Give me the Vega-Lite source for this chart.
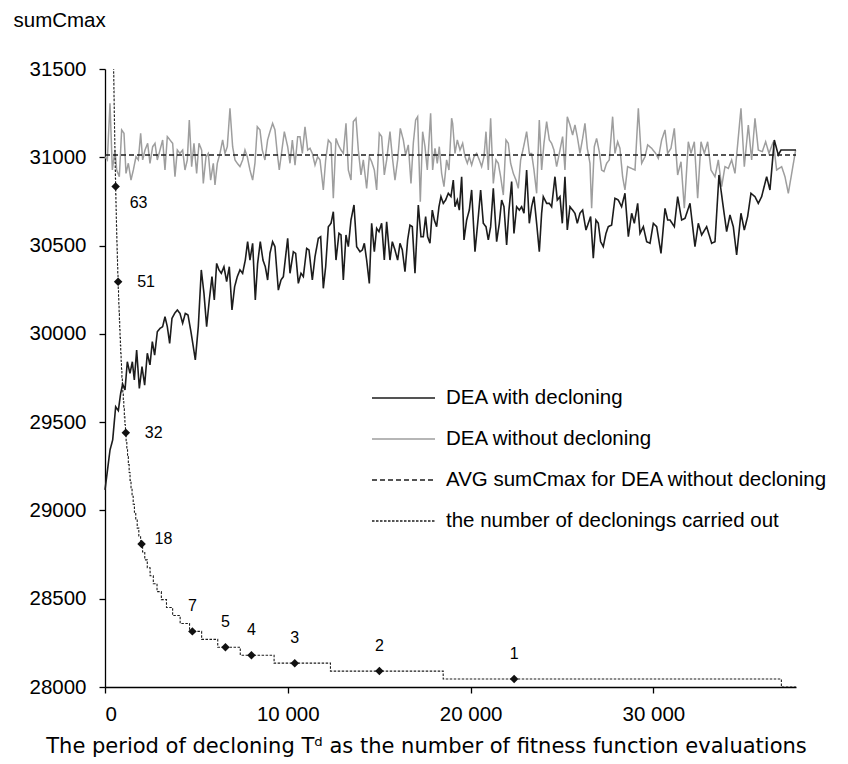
{
  "$schema": "https://vega.github.io/schema/vega-lite/v6.json",
  "width": 691,
  "height": 618,
  "autosize": {"type": "none"},
  "padding": {"left": 105, "top": 69, "right": 52, "bottom": 77},
  "background": "white",
  "config": {
    "view": {"stroke": null},
    "font": "Liberation Sans",
    "axis": {
      "domainColor": "black", "tickColor": "black", "labelColor": "black", "titleColor": "black",
      "labelFont": "Liberation Sans", "titleFont": "Liberation Sans",
      "labelFontSize": 20.5, "titleFontSize": 20.5, "titleFontWeight": "normal",
      "grid": false, "tickSize": 6, "domainWidth": 1.3, "tickWidth": 1.3
    },
    "legend": {
      "orient": "none", "legendX": 266, "legendY": 317, "padding": 0,
      "symbolType": "stroke", "symbolSize": 3969, "symbolStrokeWidth": 1.4,
      "labelFont": "Liberation Sans", "labelFontSize": 20.5, "labelColor": "black",
      "labelOffset": 10, "clipHeight": 24, "rowPadding": 17, "labelLimit": 500
    }
  },
  "datasets": {
    "dec": [
      {"T":0,"v":29116},{"T":274,"v":29342},{"T":420,"v":29399},{"T":583,"v":29587},{"T":729,"v":29565},{"T":857,"v":29663},{"T":966,"v":29716},{"T":1094,"v":29682},{"T":1221,"v":29842},{"T":1367,"v":29776},{"T":1495,"v":29842},{"T":1604,"v":29739},{"T":1732,"v":29908},{"T":1878,"v":29691},{"T":2024,"v":29814},{"T":2169,"v":29710},{"T":2315,"v":29890},{"T":2461,"v":29824},{"T":2589,"v":29956},{"T":2716,"v":29880},{"T":2862,"v":30012},{"T":3008,"v":30031},{"T":3154,"v":30041},{"T":3281,"v":30097},{"T":3409,"v":30041},{"T":3537,"v":29946},{"T":3664,"v":30088},{"T":3810,"v":30116},{"T":3956,"v":30135},{"T":4102,"v":30116},{"T":4248,"v":30060},{"T":4393,"v":30116},{"T":4539,"v":30107},{"T":4685,"v":30022},{"T":4831,"v":29927},{"T":4940,"v":29852},{"T":5104,"v":30041},{"T":5268,"v":30362},{"T":5414,"v":30229},{"T":5560,"v":30041},{"T":5706,"v":30192},{"T":5852,"v":30324},{"T":5979,"v":30192},{"T":6107,"v":30399},{"T":6235,"v":30362},{"T":6362,"v":30343},{"T":6508,"v":30380},{"T":6654,"v":30296},{"T":6800,"v":30380},{"T":6946,"v":30135},{"T":7091,"v":30267},{"T":7237,"v":30324},{"T":7383,"v":30362},{"T":7529,"v":30343},{"T":7675,"v":30418},{"T":7802,"v":30522},{"T":7930,"v":30418},{"T":8076,"v":30513},{"T":8222,"v":30192},{"T":8349,"v":30399},{"T":8495,"v":30522},{"T":8641,"v":30418},{"T":8769,"v":30380},{"T":8896,"v":30305},{"T":9024,"v":30456},{"T":9170,"v":30522},{"T":9297,"v":30494},{"T":9482,"v":30248},{"T":9628,"v":30305},{"T":9756,"v":30324},{"T":9993,"v":30541},{"T":10120,"v":30343},{"T":10303,"v":30465},{"T":10430,"v":30456},{"T":10576,"v":30286},{"T":10722,"v":30343},{"T":10850,"v":30324},{"T":11032,"v":30484},{"T":11159,"v":30475},{"T":11342,"v":30305},{"T":11488,"v":30437},{"T":11670,"v":30541},{"T":11798,"v":30550},{"T":11943,"v":30258},{"T":12071,"v":30380},{"T":12217,"v":30607},{"T":12363,"v":30626},{"T":12490,"v":30692},{"T":12636,"v":30418},{"T":12800,"v":30569},{"T":12910,"v":30560},{"T":13037,"v":30305},{"T":13183,"v":30560},{"T":13311,"v":30494},{"T":13456,"v":30645},{"T":13621,"v":30730},{"T":13766,"v":30494},{"T":13949,"v":30465},{"T":14077,"v":30475},{"T":14186,"v":30513},{"T":14313,"v":30418},{"T":14459,"v":30286},{"T":14587,"v":30626},{"T":14733,"v":30465},{"T":14860,"v":30598},{"T":14988,"v":30579},{"T":15134,"v":30626},{"T":15279,"v":30418},{"T":15407,"v":30635},{"T":15589,"v":30418},{"T":15717,"v":30522},{"T":15863,"v":30475},{"T":16009,"v":30418},{"T":16136,"v":30513},{"T":16264,"v":30475},{"T":16410,"v":30352},{"T":16556,"v":30532},{"T":16683,"v":30616},{"T":16811,"v":30607},{"T":16957,"v":30343},{"T":17139,"v":30730},{"T":17285,"v":30550},{"T":17412,"v":30550},{"T":17540,"v":30664},{"T":17649,"v":30550},{"T":17777,"v":30513},{"T":17903,"v":30701},{"T":18014,"v":30645},{"T":18141,"v":30607},{"T":18269,"v":30720},{"T":18378,"v":30777},{"T":18506,"v":30739},{"T":18634,"v":30758},{"T":18780,"v":30796},{"T":18925,"v":30777},{"T":19053,"v":30871},{"T":19145,"v":30720},{"T":19273,"v":30758},{"T":19382,"v":30701},{"T":19510,"v":30890},{"T":19638,"v":30532},{"T":19784,"v":30645},{"T":19929,"v":30701},{"T":20057,"v":30815},{"T":20239,"v":30465},{"T":20422,"v":30664},{"T":20549,"v":30815},{"T":20695,"v":30626},{"T":20841,"v":30607},{"T":20968,"v":30532},{"T":21096,"v":30607},{"T":21242,"v":30824},{"T":21424,"v":30522},{"T":21570,"v":30626},{"T":21698,"v":30758},{"T":21825,"v":30720},{"T":21971,"v":30503},{"T":22099,"v":30701},{"T":22245,"v":30862},{"T":22372,"v":30569},{"T":22518,"v":30720},{"T":22664,"v":30701},{"T":22791,"v":30720},{"T":22919,"v":30683},{"T":23065,"v":30928},{"T":23211,"v":30626},{"T":23338,"v":30720},{"T":23466,"v":30777},{"T":23612,"v":30626},{"T":23758,"v":30465},{"T":23885,"v":30683},{"T":23976,"v":30777},{"T":24159,"v":30739},{"T":24305,"v":30739},{"T":24432,"v":30720},{"T":24614,"v":30890},{"T":24742,"v":30758},{"T":24888,"v":30777},{"T":25016,"v":30626},{"T":25161,"v":30890},{"T":25289,"v":30588},{"T":25435,"v":30720},{"T":25581,"v":30701},{"T":25708,"v":30683},{"T":25836,"v":30626},{"T":25982,"v":30683},{"T":26128,"v":30701},{"T":26310,"v":30588},{"T":26437,"v":30626},{"T":26565,"v":30664},{"T":26711,"v":30428},{"T":26857,"v":30645},{"T":26984,"v":30626},{"T":27112,"v":30522},{"T":27258,"v":30494},{"T":27404,"v":30569},{"T":27531,"v":30607},{"T":27714,"v":30616},{"T":27896,"v":30768},{"T":28078,"v":30758},{"T":28260,"v":30720},{"T":28443,"v":30796},{"T":28628,"v":30550},{"T":28811,"v":30683},{"T":28956,"v":30626},{"T":29139,"v":30739},{"T":29266,"v":30569},{"T":29449,"v":30607},{"T":29631,"v":30522},{"T":29813,"v":30513},{"T":29996,"v":30626},{"T":30178,"v":30607},{"T":30415,"v":30456},{"T":30634,"v":30711},{"T":30779,"v":30645},{"T":30907,"v":30645},{"T":31144,"v":30607},{"T":31326,"v":30777},{"T":31545,"v":30645},{"T":31727,"v":30654},{"T":32001,"v":30739},{"T":32274,"v":30494},{"T":32457,"v":30626},{"T":32639,"v":30560},{"T":32912,"v":30607},{"T":33186,"v":30513},{"T":33368,"v":30522},{"T":33587,"v":30900},{"T":33769,"v":30758},{"T":34006,"v":30579},{"T":34188,"v":30673},{"T":34371,"v":30607},{"T":34553,"v":30447},{"T":34790,"v":30683},{"T":34972,"v":30588},{"T":35154,"v":30664},{"T":35337,"v":30796},{"T":35556,"v":30777},{"T":35738,"v":30739},{"T":35920,"v":30777},{"T":36194,"v":30890},{"T":36376,"v":30815},{"T":36613,"v":31098},{"T":36832,"v":31013},{"T":36978,"v":31041},{"T":37800,"v":31041}
    ],
    "nodec": [
      {"T":0,"v":31003},{"T":128,"v":30985},{"T":273,"v":31306},{"T":401,"v":30928},{"T":547,"v":31041},{"T":638,"v":30928},{"T":784,"v":30890},{"T":911,"v":31155},{"T":1039,"v":31136},{"T":1148,"v":30909},{"T":1276,"v":30966},{"T":1422,"v":30871},{"T":1550,"v":30928},{"T":1695,"v":31003},{"T":1823,"v":30985},{"T":1951,"v":31136},{"T":2060,"v":30985},{"T":2188,"v":31041},{"T":2333,"v":31079},{"T":2461,"v":30966},{"T":2607,"v":31060},{"T":2734,"v":31079},{"T":2862,"v":30985},{"T":3008,"v":31041},{"T":3154,"v":31098},{"T":3281,"v":30928},{"T":3409,"v":31117},{"T":3555,"v":31098},{"T":3701,"v":31079},{"T":3828,"v":30890},{"T":3956,"v":31041},{"T":4102,"v":31022},{"T":4248,"v":31041},{"T":4375,"v":30928},{"T":4503,"v":30985},{"T":4612,"v":31211},{"T":4740,"v":30947},{"T":4867,"v":31079},{"T":5013,"v":30909},{"T":5141,"v":31079},{"T":5287,"v":31041},{"T":5378,"v":30852},{"T":5524,"v":31003},{"T":5651,"v":31022},{"T":5779,"v":30871},{"T":5925,"v":30966},{"T":6016,"v":30843},{"T":6144,"v":30966},{"T":6289,"v":31022},{"T":6435,"v":31098},{"T":6563,"v":31022},{"T":6690,"v":31060},{"T":6836,"v":31277},{"T":6982,"v":31060},{"T":7110,"v":30985},{"T":7237,"v":30966},{"T":7383,"v":30947},{"T":7529,"v":30985},{"T":7657,"v":31041},{"T":7784,"v":31003},{"T":7930,"v":30928},{"T":8076,"v":30871},{"T":8203,"v":30966},{"T":8331,"v":31173},{"T":8477,"v":31155},{"T":8604,"v":31041},{"T":8750,"v":30985},{"T":8896,"v":31098},{"T":9024,"v":31145},{"T":9170,"v":31192},{"T":9297,"v":31155},{"T":9425,"v":31022},{"T":9534,"v":30928},{"T":9810,"v":31145},{"T":9993,"v":31060},{"T":10120,"v":30966},{"T":10248,"v":31098},{"T":10394,"v":30956},{"T":10540,"v":31117},{"T":10667,"v":31117},{"T":10795,"v":31022},{"T":10941,"v":31173},{"T":11087,"v":31041},{"T":11214,"v":31051},{"T":11342,"v":31022},{"T":11488,"v":30956},{"T":11633,"v":31003},{"T":11761,"v":30985},{"T":11943,"v":30815},{"T":12071,"v":30985},{"T":12217,"v":31098},{"T":12363,"v":31079},{"T":12490,"v":30768},{"T":12636,"v":31107},{"T":12764,"v":31070},{"T":12910,"v":31041},{"T":13037,"v":31022},{"T":13183,"v":31192},{"T":13311,"v":30928},{"T":13456,"v":30871},{"T":13584,"v":31202},{"T":13730,"v":31221},{"T":13858,"v":31041},{"T":14003,"v":30900},{"T":14131,"v":30985},{"T":14313,"v":30824},{"T":14459,"v":31003},{"T":14587,"v":30975},{"T":14733,"v":30928},{"T":14860,"v":30815},{"T":15006,"v":31136},{"T":15134,"v":31117},{"T":15279,"v":30900},{"T":15407,"v":30985},{"T":15589,"v":31145},{"T":15717,"v":31003},{"T":15863,"v":30871},{"T":16009,"v":30985},{"T":16154,"v":31164},{"T":16319,"v":31098},{"T":16446,"v":31013},{"T":16592,"v":31070},{"T":16738,"v":30852},{"T":16865,"v":31079},{"T":16993,"v":31211},{"T":17102,"v":31230},{"T":17248,"v":30749},{"T":17376,"v":31145},{"T":17504,"v":31060},{"T":17631,"v":30928},{"T":17813,"v":31249},{"T":17923,"v":30928},{"T":18050,"v":31051},{"T":18178,"v":30966},{"T":18287,"v":31060},{"T":18415,"v":30909},{"T":18543,"v":30834},{"T":18688,"v":30985},{"T":18816,"v":30928},{"T":18962,"v":31221},{"T":19018,"v":31192},{"T":19145,"v":31022},{"T":19273,"v":31098},{"T":19419,"v":31041},{"T":19565,"v":31079},{"T":19692,"v":31003},{"T":19820,"v":30966},{"T":19929,"v":31003},{"T":20057,"v":30956},{"T":20185,"v":31003},{"T":20330,"v":31022},{"T":20476,"v":30985},{"T":20604,"v":30947},{"T":20731,"v":31003},{"T":20841,"v":31145},{"T":20968,"v":30928},{"T":21096,"v":31221},{"T":21242,"v":30852},{"T":21388,"v":30985},{"T":21515,"v":30966},{"T":21643,"v":30890},{"T":21789,"v":30786},{"T":21935,"v":31098},{"T":22062,"v":31079},{"T":22190,"v":30966},{"T":22336,"v":30909},{"T":22482,"v":30871},{"T":22609,"v":30824},{"T":22737,"v":30985},{"T":22883,"v":31051},{"T":23065,"v":31145},{"T":23211,"v":31022},{"T":23338,"v":31022},{"T":23466,"v":30928},{"T":23612,"v":30796},{"T":23758,"v":31211},{"T":23885,"v":30928},{"T":24013,"v":31079},{"T":24159,"v":31202},{"T":24305,"v":31098},{"T":24432,"v":31079},{"T":24560,"v":31041},{"T":24706,"v":30947},{"T":24851,"v":31022},{"T":25034,"v":31117},{"T":25161,"v":30928},{"T":25289,"v":31230},{"T":25435,"v":31183},{"T":25581,"v":31126},{"T":25708,"v":31183},{"T":25836,"v":31117},{"T":25982,"v":31022},{"T":26128,"v":31107},{"T":26255,"v":31192},{"T":26383,"v":31051},{"T":26529,"v":30966},{"T":26620,"v":30711},{"T":26766,"v":31060},{"T":26893,"v":31107},{"T":27039,"v":31032},{"T":27167,"v":30928},{"T":27294,"v":30919},{"T":27440,"v":30966},{"T":27586,"v":30985},{"T":27768,"v":31230},{"T":27896,"v":31022},{"T":28042,"v":31088},{"T":28169,"v":31051},{"T":28315,"v":30890},{"T":28443,"v":30815},{"T":28589,"v":30947},{"T":28993,"v":30928},{"T":29175,"v":31277},{"T":29358,"v":30966},{"T":29540,"v":31003},{"T":29686,"v":31070},{"T":29904,"v":31051},{"T":30123,"v":31022},{"T":30269,"v":30994},{"T":30451,"v":31098},{"T":30634,"v":31155},{"T":30779,"v":31022},{"T":30961,"v":31051},{"T":31144,"v":31164},{"T":31326,"v":30900},{"T":31509,"v":30975},{"T":31691,"v":30711},{"T":31910,"v":31088},{"T":32056,"v":31022},{"T":32238,"v":31088},{"T":32420,"v":30768},{"T":32603,"v":31088},{"T":32785,"v":31022},{"T":32967,"v":31088},{"T":33150,"v":30928},{"T":33368,"v":30890},{"T":33550,"v":30985},{"T":33733,"v":30834},{"T":33915,"v":30947},{"T":34097,"v":30937},{"T":34280,"v":30985},{"T":34462,"v":30909},{"T":34790,"v":31277},{"T":34972,"v":30947},{"T":35191,"v":31183},{"T":35373,"v":30985},{"T":35556,"v":31221},{"T":35738,"v":31041},{"T":35957,"v":31032},{"T":36139,"v":31088},{"T":36322,"v":31022},{"T":36559,"v":31088},{"T":36741,"v":30928},{"T":37015,"v":30947},{"T":37198,"v":30890},{"T":37380,"v":30796},{"T":37780,"v":31041}
    ],
    "avg": [{"T":0,"v":31013},{"T":37800,"v":31013}],
    "steps": [
      {"T":468,"c":78},{"T":474,"c":77},{"T":481,"c":76},{"T":487,"c":75},{"T":493,"c":74},{"T":500,"c":73},{"T":507,"c":72},{"T":514,"c":71},{"T":521,"c":70},{"T":529,"c":69},{"T":536,"c":68},{"T":544,"c":67},{"T":552,"c":66},{"T":561,"c":65},{"T":569,"c":64},{"T":578,"c":63},{"T":587,"c":62},{"T":597,"c":61},{"T":607,"c":60},{"T":617,"c":59},{"T":627,"c":58},{"T":638,"c":57},{"T":649,"c":56},{"T":661,"c":55},{"T":673,"c":54},{"T":685,"c":53},{"T":698,"c":52},{"T":712,"c":51},{"T":725,"c":50},{"T":740,"c":49},{"T":755,"c":48},{"T":771,"c":47},{"T":787,"c":46},{"T":804,"c":45},{"T":822,"c":44},{"T":841,"c":43},{"T":860,"c":42},{"T":881,"c":41},{"T":902,"c":40},{"T":925,"c":39},{"T":949,"c":38},{"T":974,"c":37},{"T":1000,"c":36},{"T":1028,"c":35},{"T":1057,"c":34},{"T":1088,"c":33},{"T":1121,"c":32},{"T":1156,"c":31},{"T":1194,"c":30},{"T":1233,"c":29},{"T":1276,"c":28},{"T":1321,"c":27},{"T":1370,"c":26},{"T":1423,"c":25},{"T":1480,"c":24},{"T":1542,"c":23},{"T":1609,"c":22},{"T":1682,"c":21},{"T":1762,"c":20},{"T":1850,"c":19},{"T":1947,"c":18},{"T":2056,"c":17},{"T":2176,"c":16},{"T":2313,"c":15},{"T":2467,"c":14},{"T":2643,"c":13},{"T":2846,"c":12},{"T":3083,"c":11},{"T":3364,"c":10},{"T":3700,"c":9},{"T":4111,"c":8},{"T":4625,"c":7},{"T":5286,"c":6},{"T":6167,"c":5},{"T":7400,"c":4},{"T":9250,"c":3},{"T":12333,"c":2},{"T":18500,"c":1},{"T":37000,"c":0},{"T":37800,"c":0}
    ],
    "marks": [
      {"T":582,"c":63},{"T":718,"c":51},{"T":1138,"c":32},{"T":2000,"c":18},{"T":4780,"c":7},{"T":6590,"c":5},{"T":8010,"c":4},{"T":10380,"c":3},{"T":15010,"c":2},{"T":22380,"c":1}
    ]
  },
  "layer": [
    {
      "layer": [
        {
          "data": {"name": "nodec"},
          "mark": {"type": "line", "strokeWidth": 1.5},
          "encoding": {
            "x": {
              "field": "T", "type": "quantitative",
              "scale": {"domain": [0, 37800], "nice": false, "zero": false},
              "axis": {
                "values": [0, 10000, 20000, 30000],
                "labelExpr": "replace(format(datum.value, ','), ',', ' ')",
                "labelPadding": 11,
                "title": "The period of decloning Tᵈ as the number of fitness function evaluations",
                "titleFont": "DejaVu Sans", "titleFontSize": 21,
                "titleX": 321, "titleY": 65, "titleAlign": "center", "titleBaseline": "alphabetic"
              }
            },
            "y": {
              "field": "v", "type": "quantitative",
              "scale": {"domain": [28000, 31500], "nice": false, "zero": false},
              "axis": {
                "values": [28000, 28500, 29000, 29500, 30000, 30500, 31000, 31500],
                "format": "d", "labelPadding": 13,
                "title": "sumCmax", "titleAngle": 0, "titleX": -92, "titleY": -43,
                "titleAlign": "left", "titleBaseline": "alphabetic"
              }
            },
            "color": {
              "datum": "DEA without decloning", "type": "nominal",
              "scale": {
                "domain": ["DEA with decloning", "DEA without decloning", "AVG sumCmax for DEA without decloning", "the number of declonings carried out"],
                "range": ["#1c1c1c", "#9e9e9e", "#1c1c1c", "#1c1c1c"]
              },
              "legend": {"title": null}
            },
            "strokeDash": {
              "datum": "DEA without decloning", "type": "nominal",
              "scale": {
                "domain": ["DEA with decloning", "DEA without decloning", "AVG sumCmax for DEA without decloning", "the number of declonings carried out"],
                "range": [[1, 0], [1, 0], [5, 3], [2.5, 1.5]]
              },
              "legend": {"title": null}
            }
          }
        },
        {
          "data": {"name": "dec"},
          "mark": {"type": "line", "strokeWidth": 1.6},
          "encoding": {
            "x": {"field": "T", "type": "quantitative"},
            "y": {"field": "v", "type": "quantitative"},
            "color": {"datum": "DEA with decloning", "type": "nominal"},
            "strokeDash": {"datum": "DEA with decloning", "type": "nominal"}
          }
        },
        {
          "data": {"name": "avg"},
          "mark": {"type": "line", "strokeWidth": 1.3},
          "encoding": {
            "x": {"field": "T", "type": "quantitative"},
            "y": {"field": "v", "type": "quantitative"},
            "color": {"datum": "AVG sumCmax for DEA without decloning", "type": "nominal"},
            "strokeDash": {"datum": "AVG sumCmax for DEA without decloning", "type": "nominal"}
          }
        }
      ]
    },
    {
      "layer": [
        {
          "data": {"name": "steps"},
          "mark": {"type": "line", "strokeWidth": 1.1, "interpolate": "step-after", "clip": true},
          "encoding": {
            "x": {"field": "T", "type": "quantitative"},
            "y": {"field": "c", "type": "quantitative", "scale": {"domain": [0, 77.78], "nice": false, "zero": false}, "axis": null},
            "color": {"datum": "the number of declonings carried out", "type": "nominal"},
            "strokeDash": {"datum": "the number of declonings carried out", "type": "nominal"}
          }
        },
        {
          "data": {"name": "marks"},
          "mark": {"type": "point", "shape": "diamond", "filled": true, "size": 72, "color": "#111111", "opacity": 1},
          "encoding": {
            "x": {"field": "T", "type": "quantitative"},
            "y": {"field": "c", "type": "quantitative", "axis": null}
          }
        },
        {
          "data": {"name": "marks"},
          "transform": [{"filter": "datum.c == 63"}],
          "mark": {"type": "text", "align": "left", "baseline": "middle", "dx": 14, "dy": 17, "fontSize": 16, "font": "Liberation Sans", "color": "black"},
          "encoding": {
            "x": {"field": "T", "type": "quantitative"},
            "y": {"field": "c", "type": "quantitative", "axis": null},
            "text": {"field": "c", "type": "quantitative"}
          }
        },
        {
          "data": {"name": "marks"},
          "transform": [{"filter": "datum.c == 51 || datum.c == 32"}],
          "mark": {"type": "text", "align": "left", "baseline": "middle", "dx": 19, "dy": 0, "fontSize": 16, "font": "Liberation Sans", "color": "black"},
          "encoding": {
            "x": {"field": "T", "type": "quantitative"},
            "y": {"field": "c", "type": "quantitative", "axis": null},
            "text": {"field": "c", "type": "quantitative"}
          }
        },
        {
          "data": {"name": "marks"},
          "transform": [{"filter": "datum.c == 18"}],
          "mark": {"type": "text", "align": "left", "baseline": "middle", "dx": 13, "dy": -5, "fontSize": 16, "font": "Liberation Sans", "color": "black"},
          "encoding": {
            "x": {"field": "T", "type": "quantitative"},
            "y": {"field": "c", "type": "quantitative", "axis": null},
            "text": {"field": "c", "type": "quantitative"}
          }
        },
        {
          "data": {"name": "marks"},
          "transform": [{"filter": "datum.c <= 7"}],
          "mark": {"type": "text", "align": "center", "baseline": "middle", "dx": 0, "dy": -25, "fontSize": 16, "font": "Liberation Sans", "color": "black"},
          "encoding": {
            "x": {"field": "T", "type": "quantitative"},
            "y": {"field": "c", "type": "quantitative", "axis": null},
            "text": {"field": "c", "type": "quantitative"}
          }
        }
      ]
    }
  ],
  "resolve": {"scale": {"y": "independent"}}
}
